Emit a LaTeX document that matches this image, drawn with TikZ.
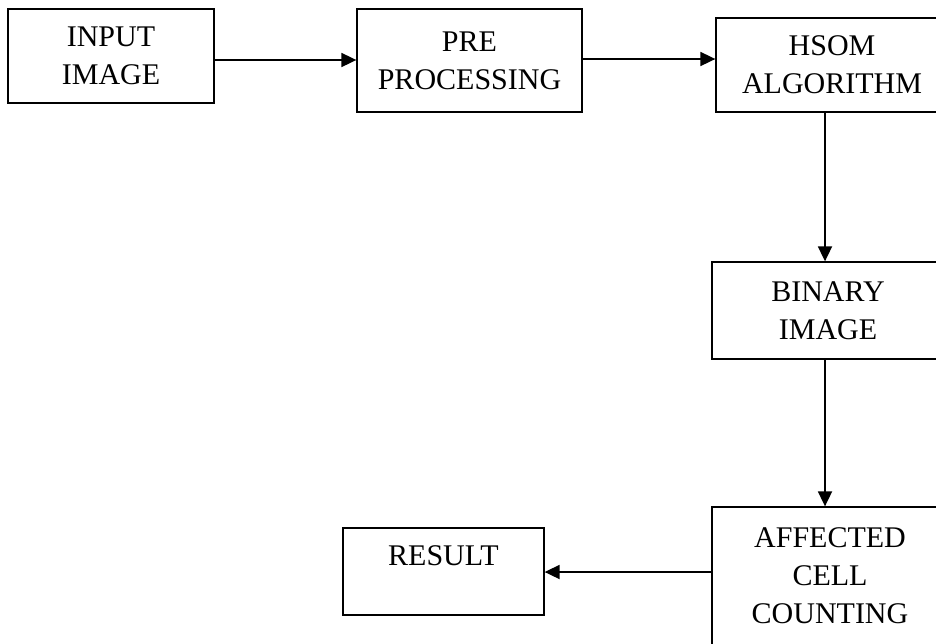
\documentclass[tikz,border=0pt]{standalone}
\usepackage{fontspec}
\setmainfont{Liberation Serif}
\usetikzlibrary{arrows.meta}
\tikzstyle{box} = [draw,rectangle,line width=0.65pt,inner sep=0pt,align=center,font=\fontsize{15}{19}\selectfont]
\tikzstyle{arrow} = [line width=0.9pt,-{Triangle[length=7.5pt,width=7pt]}]

\begin{document}
\begin{tikzpicture}[x=0.5pt,y=-0.5pt]
            \useasboundingbox (0,0) rectangle (936,643);
            \clip (0,0) rectangle (936,643);
            % blocks
            \node[box,minimum width=103pt,minimum height=47pt] (input) at (111,56) {INPUT\\IMAGE};
            \node[box,minimum width=112.5pt,minimum height=51.5pt] (pre) at (469.5,60.5) {PRE\\PROCESSING};
            \node[box,minimum width=116pt,minimum height=47pt] (hsom) at (832,65) {HSOM\\ALGORITHM};
            \node[box,minimum width=116pt,minimum height=48.5pt] (binary) at (828,310.5) {BINARY\\IMAGE};
            \node[box,minimum width=118pt,minimum height=69pt] (count) at (830,576) {AFFECTED\\CELL\\COUNTING};
            \node[box,minimum width=100.5pt,minimum height=43.5pt] (result) at (443.5,571.5) {\raisebox{3.25pt}[0pt][0pt]{RESULT}};
            \coordinate (spine) at (825,0);
            % flow
            \draw[arrow] (input.east |- 0,60) -- (pre.west |- 0,60);
            \draw[arrow] (pre.east |- 0,59) -- (hsom.west |- 0,59);
            \draw[arrow] (hsom.south -| spine) -- (binary.north -| spine);
            \draw[arrow] (binary.south -| spine) -- (count.north -| spine);
            \draw[arrow] (count.west |- 0,572) -- (result.east |- 0,572);
\end{tikzpicture}
\end{document}
